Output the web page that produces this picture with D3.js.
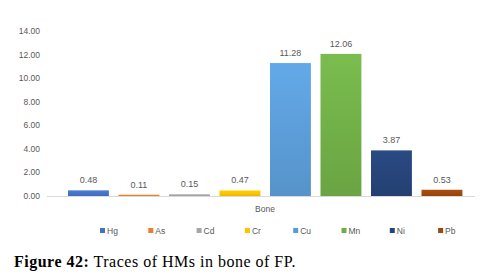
<!DOCTYPE html>
<html>
<head>
<meta charset="utf-8">
<script src="https://cdn.jsdelivr.net/npm/d3@7"></script>
<style>
  body { margin: 0; background: #fff; }
  svg { display: block; }
</style>
</head>
<body>
<div id="chart"></div>
<script>
const metals = ['Hg', 'As', 'Cd', 'Cr', 'Cu', 'Mn', 'Ni', 'Pb'];
const boneValues = [0.48, 0.11, 0.15, 0.47, 11.28, 12.06, 3.87, 0.53];
const yTicks = [0, 2, 4, 6, 8, 10, 12, 14];
const groupLabel = 'Bone';
const colors = ['#4472C4', '#ED7D31', '#A5A5A5', '#FFC000', '#5B9BD5', '#70AD47', '#264478', '#9E480E'];

const W = 483, H = 276;
const svg = d3.select('#chart').append('svg')
  .attr('width', W).attr('height', H);

const font = '"Liberation Sans", Arial, sans-serif';
const plot = { left: 47, right: 475, top: 31, bottom: 196 };

const x = d3.scaleBand()
  .domain(metals)
  .range([63.2, 467.2])
  .paddingInner(0.19)
  .paddingOuter(0.095);

const y = d3.scaleLinear()
  .domain([0, 14])
  .range([plot.bottom, plot.top]);

// gradients for the slightly shaded Excel bars
const defs = svg.append('defs');
metals.forEach((m, i) => {
  const c = d3.color(colors[i]);
  const gr = defs.append('linearGradient')
    .attr('id', 'g' + i)
    .attr('x1', 0).attr('y1', 0).attr('x2', 0).attr('y2', 1);
  gr.append('stop').attr('offset', '0%').attr('stop-color', c.brighter(0.25));
  gr.append('stop').attr('offset', '100%').attr('stop-color', c.darker(0.15));
});

// y tick labels
svg.append('g').selectAll('text')
  .data(yTicks).join('text')
  .attr('x', 40)
  .attr('y', d => y(d) + 3)
  .attr('text-anchor', 'end')
  .attr('font-family', font)
  .attr('font-size', 8.5)
  .attr('fill', '#595959')
  .text(d => d.toFixed(2));

// bars
svg.append('g').selectAll('rect')
  .data(boneValues).join('rect')
  .attr('x', (d, i) => x(metals[i]))
  .attr('y', d => y(d))
  .attr('width', x.bandwidth())
  .attr('height', d => y(0) - y(d))
  .attr('fill', (d, i) => `url(#g${i})`);

// axis line
svg.append('line')
  .attr('x1', plot.left).attr('x2', plot.right)
  .attr('y1', y(0) + 0.5).attr('y2', y(0) + 0.5)
  .attr('stroke', '#d9d9d9').attr('stroke-width', 1);

// value labels
svg.append('g').selectAll('text')
  .data(boneValues).join('text')
  .attr('x', (d, i) => x(metals[i]) + x.bandwidth() / 2)
  .attr('y', d => y(d) - 7)
  .attr('text-anchor', 'middle')
  .attr('font-family', font)
  .attr('font-size', 9)
  .attr('fill', '#595959')
  .text(d => d.toFixed(2));

// category label
svg.append('text')
  .attr('x', 265).attr('y', 212)
  .attr('text-anchor', 'middle')
  .attr('font-family', font)
  .attr('font-size', 8.5)
  .attr('fill', '#595959')
  .text(groupLabel);

// legend
const leg = svg.append('g').selectAll('g')
  .data(metals).join('g')
  .attr('transform', (d, i) => `translate(${100 + i * 48.3},231)`);
leg.append('rect')
  .attr('x', 0).attr('y', -3)
  .attr('width', 5).attr('height', 5)
  .attr('fill', (d, i) => colors[i]);
leg.append('text')
  .attr('x', 7).attr('y', 2.5)
  .attr('font-family', font)
  .attr('font-size', 8.5)
  .attr('fill', '#595959')
  .text(d => d);

// caption
const cap = svg.append('text')
  .attr('x', 14).attr('y', 267)
  .attr('font-family', '"Liberation Serif", "Times New Roman", serif')
  .attr('font-size', 16)
  .attr('letter-spacing', 0.5)
  .attr('fill', '#000');
cap.append('tspan').attr('font-weight', 'bold').text('Figure 42:');
cap.append('tspan').text(' Traces of HMs in bone of FP.');
</script>
</body>
</html>
